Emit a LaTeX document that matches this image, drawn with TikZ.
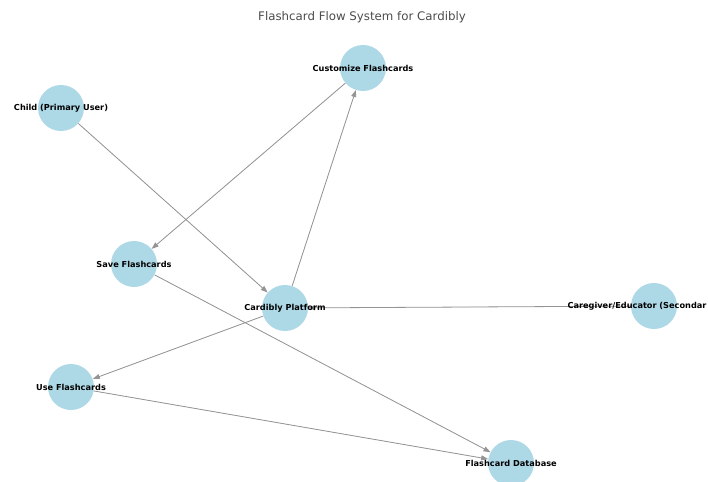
\documentclass[tikz,border=0pt]{standalone}
\usepackage{fontspec}
\setmainfont{DejaVu Sans}
\usetikzlibrary{arrows.meta,backgrounds}
\definecolor{nodeblue}{RGB}{173,216,230}

\begin{document}
\begin{tikzpicture}[x=1pt, y=-1pt]
    \tikzstyle{stage} = [circle, fill=nodeblue, minimum size=46pt, inner sep=0pt]
    \tikzstyle{flow} = [-{Triangle[length=7pt, width=5pt]}, draw=black!42, fill=black!42, line width=0.8pt]
    \tikzset{every label/.style={font=\fontsize{8.2}{10}\selectfont\bfseries, inner sep=0pt}}

    \path[use as bounding box, clip] (0,0) rectangle (708,481);

    % Title
    \node [font=\fontsize{11.8}{14}\selectfont, text=black!70] (title) at (362,17) {Flashcard Flow System for Cardibly};

    % Stages
    \node [stage, label={center:Customize Flashcards}] (customize) at (363,68) {};
    \node [stage, label={center:Child (Primary User)}] (child) at (61,108) {};
    \node [stage, label={center:Save Flashcards}] (save) at (134,264) {};
    \node [stage, label={center:Cardibly Platform}] (platform) at (285,308) {};
    \node [stage, label={[xshift=-17pt]center:Caregiver/Educator (Secondar}] (caregiver) at (654,306) {};
    \node [stage, label={center:Use Flashcards}] (use) at (71,387) {};
    \node [stage, label={center:Flashcard Database}] (database) at (511,463) {};

    % Connections
    \begin{scope}[on background layer]
        \draw [flow] (child) -- (platform);
        \draw [flow] (platform) -- (customize);
        \draw [flow] (customize) -- (save);
        \draw [flow] (save) -- (database);
        \draw [flow] (platform) -- (use);
        \draw [flow] (use) -- (database);
        \draw [flow] (caregiver) -- (platform);
    \end{scope}
\end{tikzpicture}
\end{document}
